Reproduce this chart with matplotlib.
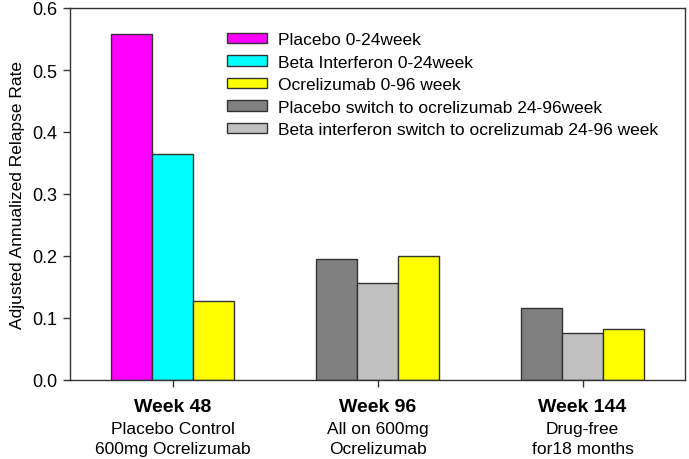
import numpy as np
import matplotlib
matplotlib.use("Agg")
import matplotlib.pyplot as plt
import matplotlib.transforms as mtransforms

plt.rcParams['font.family'] = ['Liberation Sans', 'DejaVu Sans']

# ---- data ----
groups = ["Week 48", "Week 96", "Week 144"]
group_sub1 = ["Placebo Control", "All on 600mg", "Drug-free"]
group_sub2 = ["600mg Ocrelizumab", "Ocrelizumab", "for18 months"]

series_names = [
    "Placebo 0-24week",
    "Beta Interferon 0-24week",
    "Ocrelizumab 0-96 week",
    "Placebo switch to ocrelizumab 24-96week",
    "Beta interferon switch to ocrelizumab 24-96 week",
]
placebo = [0.558, np.nan, np.nan]
beta_interferon = [0.365, np.nan, np.nan]
ocrelizumab = [0.127, 0.200, 0.082]
placebo_switch = [np.nan, 0.195, 0.116]
beta_switch = [np.nan, 0.157, 0.076]

series_values = [placebo, beta_interferon, ocrelizumab, placebo_switch, beta_switch]
series_colors = ["#FF00FF", "#00FFFF", "#FFFF00", "#808080", "#C0C0C0"]
# placement order within a group (ocrelizumab always last)
slot_order = [0, 1, 3, 4, 2]

# ---- figure ----
fig = plt.figure(figsize=(6.89, 4.60), dpi=100)
ax = fig.add_axes([70/689, 1-381/460, 615/689, 372/460])

width = 0.2
handles = [None]*5
for g in range(len(groups)):
    present = [s for s in slot_order if not np.isnan(series_values[s][g])]
    n = len(present)
    for k, s in enumerate(present):
        xpos = g + (k - (n-1)/2) * width
        b = ax.bar(xpos, series_values[s][g], width=width, color=series_colors[s],
                   edgecolor="#333333", linewidth=1.0, zorder=2)
        handles[s] = b

ax.set_xlim(-0.5, 2.5)
ax.set_ylim(0, 0.6)
ax.set_yticks(np.arange(0, 0.61, 0.1))
ax.set_yticklabels([f"{v:.1f}" for v in np.arange(0, 0.61, 0.1)], fontsize=13)
ax.set_xticks(range(len(groups)))
ax.set_xticklabels([""]*len(groups))
ax.tick_params(axis='both', direction='out', length=5, width=1, color="#333333")
ax.tick_params(axis='y', pad=4)
for sp in ax.spines.values():
    sp.set_linewidth(1.0)
    sp.set_color("#333333")

ax.set_ylabel("Adjusted Annualized Relapse Rate", fontsize=12.5, labelpad=5)

trans = mtransforms.blended_transform_factory(ax.transData, ax.transAxes)
for g in range(len(groups)):
    ax.text(g, -27/372, groups[g], transform=trans, ha='center', va='center',
            fontsize=14, fontweight='bold')
    ax.text(g, -49/372, group_sub1[g], transform=trans, ha='center', va='center',
            fontsize=12.5)
    ax.text(g, -69/372, group_sub2[g], transform=trans, ha='center', va='center',
            fontsize=12.5)

ax.legend([handles[i] for i in range(5)], series_names, loc='upper left',
          bbox_to_anchor=(0.255, 0.935), frameon=False, fontsize=12.5,
          handlelength=2.3, handleheight=0.58, handletextpad=0.63,
          labelspacing=0.43, borderpad=0, borderaxespad=0)

fig.savefig("out.png", dpi=100)
